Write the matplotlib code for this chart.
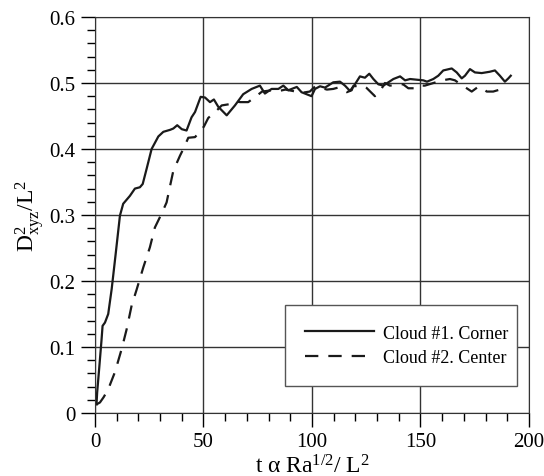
import matplotlib
matplotlib.use('Agg')
from matplotlib import pyplot as plt
from matplotlib.ticker import MultipleLocator, FuncFormatter

plt.rcParams['font.family'] = ['Liberation Serif', 'DejaVu Serif']
plt.rcParams['mathtext.fontset'] = 'custom'
plt.rcParams['mathtext.rm'] = 'Liberation Serif'
plt.rcParams['mathtext.it'] = 'Liberation Serif:italic'

# Cloud #1 (corner)
t_corner = [0.7, 1, 2, 3, 3.5, 4.6, 6.1, 7.7, 9.5, 11.5, 13, 16.1, 18.4, 20.7, 22, 23.8,
            26.1, 29.2, 31.5, 34.6, 36.1, 37.9, 40, 42.2, 44.5, 46.1, 48.7, 50.7, 53,
            54.8, 56.8, 60.7, 64.5, 68.3, 72.2, 76, 78.3, 81.4, 84.5, 86.8, 89.1, 93,
            95.2, 99.8, 101.4, 103.7, 106, 109.8, 112.9, 115.2, 117.5, 119.8, 122.1,
            124.4, 126.4, 128.3, 130.6, 132.9, 135.2, 137.5, 140.6, 142.9, 145.2, 148.2,
            151.3, 153, 155.9, 158.2, 160.5, 164.4, 166.7, 169, 170.5, 172.8, 175.1,
            178.2, 181.9, 184.3, 186.6, 188.9, 190.5, 191.6]
d_corner = [0.013, 0.031, 0.07, 0.11, 0.132, 0.137, 0.15, 0.188, 0.24, 0.299, 0.317, 0.329,
            0.340, 0.342, 0.347, 0.37, 0.4, 0.419, 0.426, 0.429, 0.431, 0.436, 0.43, 0.428,
            0.448, 0.456, 0.479, 0.478, 0.471, 0.475, 0.464, 0.451, 0.466, 0.483, 0.491,
            0.496, 0.484, 0.491, 0.491, 0.496, 0.489, 0.494, 0.486, 0.480, 0.491, 0.495,
            0.493, 0.501, 0.502, 0.496, 0.488, 0.498, 0.51, 0.508, 0.514, 0.506, 0.498,
            0.496, 0.501, 0.506, 0.51, 0.504, 0.506, 0.505, 0.504, 0.502, 0.506, 0.511,
            0.519, 0.522, 0.516, 0.507, 0.511, 0.521, 0.516, 0.515, 0.517, 0.519, 0.511,
            0.502, 0.507, 0.511]

# Cloud #2 (center)
t_center = [0.7, 2.3, 4, 6.1, 9.2, 12.3, 14.6, 16.9, 19.2, 22.3, 25.3, 27.6, 30.7, 33,
            34.6, 36.1, 39.2, 40.7, 43, 46.1, 48, 50.2, 52.2, 56, 58.4, 62.2, 64.5, 67,
            70.6, 73.5, 77, 81.6, 85, 87.7, 91, 95, 99, 101.5, 103.7, 106.9, 109.8, 112,
            116, 118.3, 119, 123.7, 125, 129, 131.3, 133.6, 135.9, 142, 144.4, 149, 150.5,
            152, 156, 160, 163.6, 165.9, 168.5, 171.3, 173.6, 176.5, 179, 180.5, 183.5,
            186.6, 188.9]
d_center = [0.013, 0.016, 0.024, 0.036, 0.062, 0.097, 0.127, 0.163, 0.187, 0.221, 0.251,
            0.281, 0.302, 0.319, 0.344, 0.367, 0.39, 0.40, 0.417, 0.418, 0.425, 0.434,
            0.447, 0.458, 0.466, 0.468, 0.472, 0.471, 0.471, 0.478, 0.487, 0.489, 0.488,
            0.490, 0.488, 0.485, 0.487, 0.495, 0.493, 0.490, 0.491, 0.493, 0.486, 0.489,
            0.495, 0.496, 0.493, 0.480, 0.487, 0.500, 0.496, 0.498, 0.492, 0.492, 0.496,
            0.496, 0.50, 0.504, 0.506, 0.504, 0.498, 0.492, 0.487, 0.494, 0.492, 0.487,
            0.487, 0.49, 0.496]

fig = plt.figure(figsize=(5.44, 4.77), dpi=100)
ax = fig.add_axes([0.1746, 0.1321, 0.7978, 0.8302])

ax.plot(t_corner, d_corner, color='#1a1a1a', lw=1.6, label='Cloud #1. Corner')
ax.plot(t_center, d_center, color='#1a1a1a', lw=1.6, dashes=(6, 4.5),
        label='Cloud #2. Center')

ax.set_xlim(0, 200)
ax.set_ylim(0, 0.6)
ax.xaxis.set_major_locator(MultipleLocator(50))
ax.xaxis.set_minor_locator(MultipleLocator(10))
ax.yaxis.set_major_locator(MultipleLocator(0.1))
ax.yaxis.set_minor_locator(MultipleLocator(0.02))
ax.yaxis.set_major_formatter(FuncFormatter(lambda v, p: '0' if abs(v) < 1e-9 else '%.1f' % v))
ax.tick_params(which='major', direction='out', length=10, width=1, labelsize=15, pad=4)
ax.tick_params(which='minor', direction='out', length=6, width=1)
ax.grid(True, which='major', color='#333333', lw=1)
for s in ax.spines.values():
    s.set_color('#333333')

ax.set_xlabel(r'$\mathrm{t\ \alpha\ Ra^{1/2}/\ L^2}$', fontsize=17, labelpad=2)
ax.set_ylabel(r'$\mathrm{D^2_{xyz}/L^2}$', fontsize=17, labelpad=2)

leg = ax.legend(loc='center', bbox_to_anchor=(0.438, 0.0657, 0.534, 0.21),
                mode='expand', fontsize=13, frameon=True, fancybox=False,
                handlelength=3.8, handletextpad=0.55, borderpad=1.1,
                borderaxespad=0, labelspacing=0.4)
leg.get_frame().set_edgecolor('#555555')
leg.get_frame().set_linewidth(1)
leg.get_frame().set_alpha(1)

fig.savefig('out.png', dpi=100)
